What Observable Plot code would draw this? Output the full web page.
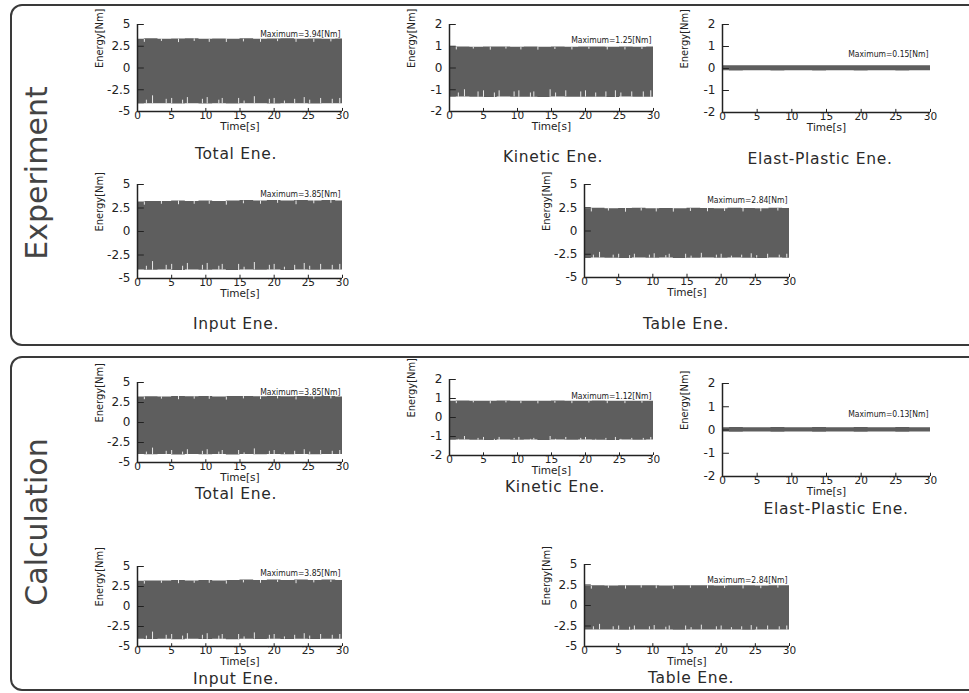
<!DOCTYPE html>
<html><head><meta charset="utf-8">
<script src="https://cdn.jsdelivr.net/npm/d3@7"></script>
<script src="https://cdn.jsdelivr.net/npm/@observablehq/plot@0.6"></script>
<style>
body{margin:0;background:#fff;}
#page{position:relative;width:969px;height:693px;overflow:hidden;font-family:"DejaVu Sans",sans-serif;color:#222;background:#fff}
.box{position:absolute;border:2px solid #3a3a3a;border-radius:12px;box-sizing:border-box}
.side{position:absolute;font-size:30px;color:#444;transform:translate(-50%,-50%) rotate(-90deg);white-space:nowrap}
.title{position:absolute;transform:translate(-50%,-50%);font-size:15.5px;letter-spacing:0.7px;white-space:nowrap;color:#2a2a2a;line-height:1}
.panel{position:absolute}
</style></head>
<body><div id="page"></div>
<script>
// ---- data ----
const T = [0,2,4,6,8,10,12,14,16,18,20,22,24,26,28,30];
const xTicks = [0,5,10,15,20,25,30];
const yTicks5 = [-5,-2.5,0,2.5,5];
const yTicks2 = [-2,-1,0,1,2];

const expTotalHi  = [3.3,3.35,3.3,3.32,3.35,3.3,3.34,3.3,3.36,3.3,3.33,3.35,3.3,3.34,3.3,3.32];
const expTotalLo  = [-4.15,-4.1,-4.12,-4.15,-4.1,-4.13,-4.1,-4.15,-4.12,-4.1,-4.14,-4.1,-4.12,-4.15,-4.1,-4.12];
const expKinHi    = [0.95,0.97,0.95,0.96,0.97,0.95,0.96,0.95,0.97,0.95,0.96,0.97,0.95,0.96,0.95,0.96];
const expKinLo    = [-1.35,-1.33,-1.35,-1.36,-1.33,-1.35,-1.34,-1.36,-1.33,-1.35,-1.34,-1.35,-1.36,-1.33,-1.35,-1.34];
const expElaHi    = [0.12,0.13,0.12,0.12,0.13,0.12,0.12,0.13,0.12,0.12,0.13,0.12,0.12,0.13,0.12,0.12];
const expElaLo    = [-0.1,-0.11,-0.1,-0.1,-0.11,-0.1,-0.1,-0.11,-0.1,-0.1,-0.11,-0.1,-0.1,-0.11,-0.1,-0.1];
const expInHi     = [3.15,3.2,3.2,3.25,3.2,3.25,3.2,3.25,3.3,3.25,3.3,3.25,3.3,3.25,3.3,3.25];
const expInLo     = [-4.1,-4.12,-4.1,-4.15,-4.1,-4.12,-4.1,-4.15,-4.1,-4.12,-4.1,-4.14,-4.1,-4.12,-4.1,-4.1];
const expTabHi    = [2.4,2.45,2.4,2.42,2.45,2.4,2.43,2.4,2.45,2.42,2.4,2.45,2.42,2.4,2.45,2.42];
const expTabLo    = [-2.95,-2.9,-2.92,-2.95,-2.9,-2.93,-2.9,-2.95,-2.92,-2.9,-2.94,-2.9,-2.92,-2.95,-2.9,-2.92];

const calTotalHi  = [3.2,3.22,3.2,3.25,3.22,3.25,3.2,3.25,3.25,3.22,3.25,3.22,3.25,3.22,3.25,3.2];
const calTotalLo  = [-4.0,-4.02,-4.0,-4.05,-4.0,-4.02,-4.0,-4.05,-4.0,-4.02,-4.0,-4.04,-4.0,-4.02,-4.0,-4.0];
const calKinHi    = [0.85,0.87,0.85,0.86,0.87,0.85,0.86,0.85,0.87,0.85,0.86,0.87,0.85,0.86,0.85,0.86];
const calKinLo    = [-1.2,-1.18,-1.2,-1.21,-1.18,-1.2,-1.19,-1.21,-1.18,-1.2,-1.19,-1.2,-1.21,-1.18,-1.2,-1.19];
const calElaHi    = [0.1,0.11,0.1,0.1,0.11,0.1,0.1,0.11,0.1,0.1,0.11,0.1,0.1,0.11,0.1,0.1];
const calElaLo    = [-0.09,-0.1,-0.09,-0.09,-0.1,-0.09,-0.09,-0.1,-0.09,-0.09,-0.1,-0.09,-0.09,-0.1,-0.09,-0.09];
const calInHi     = [3.15,3.2,3.2,3.25,3.2,3.25,3.2,3.25,3.3,3.25,3.3,3.25,3.3,3.25,3.3,3.25];
const calInLo     = [-4.1,-4.12,-4.1,-4.15,-4.1,-4.12,-4.1,-4.15,-4.1,-4.12,-4.1,-4.14,-4.1,-4.12,-4.1,-4.1];
const calTabHi    = [2.35,2.4,2.38,2.4,2.42,2.4,2.38,2.4,2.42,2.4,2.38,2.42,2.4,2.38,2.42,2.4];
const calTabLo    = [-3.0,-2.98,-3.0,-3.02,-2.98,-3.0,-3.0,-3.02,-2.98,-3.0,-3.0,-3.0,-3.02,-2.98,-3.0,-3.0];

// white gaps rising from the lower edge (time, top value)
const spikeT   = [1.3,2.2,4.2,5.0,6.6,7.3,9.5,10.2,11.9,12.4,14.8,15.6,17.1,19.3,20.0,21.5,23.0,24.4,25.2,26.8,28.5,29.6];
const spikeTop5 = [-3.7,-3.2,-3.6,-3.5,-3.7,-3.4,-3.6,-3.4,-3.7,-3.5,-3.5,-3.8,-3.3,-3.6,-3.5,-3.8,-3.6,-3.4,-3.7,-3.5,-3.6,-3.5];
const spikeTop2 = [-1.15,-1.0,-1.1,-1.05,-1.15,-1.05,-1.1,-1.05,-1.15,-1.1,-1.0,-1.15,-1.05,-1.1,-1.05,-1.15,-1.1,-1.05,-1.15,-1.1,-1.1,-1.05];
const spikeTopTab = [-2.6,-2.3,-2.6,-2.5,-2.65,-2.5,-2.6,-2.45,-2.65,-2.5,-2.5,-2.7,-2.4,-2.6,-2.5,-2.7,-2.6,-2.45,-2.65,-2.5,-2.6,-2.5];
// small notches dropping from the upper edge (time, depth in value units)
const notchT   = [1.0,3.5,6.0,8.3,10.5,13.0,15.5,18.0,20.5,23.2,25.8,28.3];
const notch5   = [0.35,0.3,0.4,0.3,0.35,0.4,0.3,0.35,0.3,0.4,0.35,0.3];
const notch2   = [0.12,0.1,0.14,0.1,0.12,0.14,0.1,0.12,0.1,0.14,0.12,0.1];

const panels = [
  {title:"Total Ene.", hi:expTotalHi, lo:expTotalLo, yd:[-5,5], yt:yTicks5, sTop:spikeTop5, notch:notch5, max:"Maximum=3.94[Nm]", x0:137, y0:24, w:205, h:87, maxDy:6, tx:236, ty:155},
  {title:"Kinetic Ene.", hi:expKinHi, lo:expKinLo, yd:[-2,2], yt:yTicks2, sTop:spikeTop2, notch:notch2, max:"Maximum=1.25[Nm]", x0:449, y0:24, w:204, h:87, maxDy:12, tx:553, ty:158},
  {title:"Elast-Plastic Ene.", hi:expElaHi, lo:expElaLo, yd:[-2,2], yt:yTicks2, sTop:null, notch:null, max:"Maximum=0.15[Nm]", x0:722, y0:24, w:208, h:88, maxDy:26, tx:820, ty:160},
  {title:"Input Ene.", hi:expInHi, lo:expInLo, yd:[-5,5], yt:yTicks5, sTop:spikeTop5, notch:notch5, max:"Maximum=3.85[Nm]", x0:137, y0:184, w:205, h:94, maxDy:6, tx:236, ty:325},
  {title:"Table Ene.", hi:expTabHi, lo:expTabLo, yd:[-5,5], yt:yTicks5, sTop:spikeTopTab, notch:notch5, max:"Maximum=2.84[Nm]", x0:584, y0:184, w:205, h:93, maxDy:12, tx:686, ty:325},
  {title:"Total Ene.", hi:calTotalHi, lo:calTotalLo, yd:[-5,5], yt:yTicks5, sTop:spikeTop5, notch:notch5, max:"Maximum=3.85[Nm]", x0:137, y0:382, w:205, h:80, maxDy:6, tx:236, ty:495},
  {title:"Kinetic Ene.", hi:calKinHi, lo:calKinLo, yd:[-2,2], yt:yTicks2, sTop:spikeTop2, notch:notch2, max:"Maximum=1.12[Nm]", x0:449, y0:379, w:204, h:76, maxDy:13, tx:555, ty:488},
  {title:"Elast-Plastic Ene.", hi:calElaHi, lo:calElaLo, yd:[-2,2], yt:yTicks2, sTop:null, notch:null, max:"Maximum=0.13[Nm]", x0:722, y0:383, w:208, h:93, maxDy:27, tx:836, ty:510},
  {title:"Input Ene.", hi:calInHi, lo:calInLo, yd:[-5,5], yt:yTicks5, sTop:spikeTop5, notch:notch5, max:"Maximum=3.85[Nm]", x0:137, y0:566, w:205, h:80, maxDy:3, tx:236, ty:680},
  {title:"Table Ene.", hi:calTabHi, lo:calTabLo, yd:[-5,5], yt:yTicks5, sTop:spikeTopTab, notch:notch5, max:"Maximum=2.84[Nm]", x0:584, y0:564, w:205, h:82, maxDy:12, tx:691, ty:679}
];

// ---- layout ----
const page = document.getElementById("page");
function addDiv(cls, css, text) {
  const d = document.createElement("div");
  d.className = cls; Object.assign(d.style, css);
  if (text) d.textContent = text;
  page.appendChild(d); return d;
}
addDiv("box", {left:"10px", top:"4px", width:"975px", height:"342px"});
addDiv("box", {left:"10px", top:"356px", width:"975px", height:"335px"});
addDiv("side", {left:"36px", top:"173px"}, "Experiment");
addDiv("side", {left:"36px", top:"522px"}, "Calculation");

const ML = 52, MR = 12, MT = 8, MB = 30;
const BAND = "#5e5e5e";
const COND = "'DejaVu Sans Condensed', 'DejaVu Sans', sans-serif";

for (const p of panels) {
  const band = T.map((t, i) => ({t, hi: p.hi[i], lo: p.lo[i]}));
  const loAt = t => { const i = Math.min(T.length - 2, Math.floor(t / 2)); return p.lo[i]; };
  const hiAt = t => { const i = Math.min(T.length - 2, Math.floor(t / 2)); return p.hi[i]; };
  const spikes = p.sTop ? spikeT.map((t, i) => ({t, y1: loAt(t), y2: p.sTop[i]})) : [];
  const notches = p.notch ? notchT.map((t, i) => ({t, y1: hiAt(t), y2: hiAt(t) - p.notch[i]})) : [];
  const span = p.yd[1] - p.yd[0];
  const chart = Plot.plot({
    width: p.w + ML + MR, height: p.h + MT + MB,
    marginLeft: ML, marginRight: MR, marginTop: MT, marginBottom: MB,
    style: {fontFamily: "'DejaVu Sans', sans-serif", fontSize: "11px", color: "#222", background: "transparent", overflow: "visible"},
    x: {domain: [0, 30]},
    y: {domain: p.yd},
    marks: [
      Plot.areaY(band, {x: "t", y1: "lo", y2: "hi", fill: BAND, curve: "step"}),
      Plot.ruleX(spikes, {x: "t", y1: "y1", y2: "y2", stroke: "#e8e8e8", strokeWidth: 1}),
      Plot.ruleX(notches, {x: "t", y1: "y1", y2: "y2", stroke: "#e8e8e8", strokeWidth: 1}),
      Plot.axisX({ticks: xTicks, tickSize: 0, tickPadding: 0, label: null, tickFormat: d => String(d), fontSize: 10.5}),
      Plot.axisY({ticks: p.yt, tickSize: 0, tickPadding: 7, label: null, tickFormat: d => String(d), fontSize: 12}),
      Plot.ruleY([p.yd[0]], {stroke: "#222", strokeWidth: 1.5}),
      Plot.ruleX([0], {stroke: "#222", strokeWidth: 1.5}),
      Plot.ruleX(xTicks, {x: d => d, y1: p.yd[0], y2: p.yd[0] + span * 0.035, stroke: "#222"}),
      Plot.ruleY(p.yt, {y: d => d, x1: 0, x2: 1, stroke: "#222"}),
      Plot.text(["Time[s]"], {frameAnchor: "bottom", dy: 18.5, fontSize: 10.5, fill: "#222"}),
      Plot.text(["Energy[Nm]"], {frameAnchor: "left", dx: -38, rotate: -90, fontSize: 11, fill: "#222", fontFamily: COND}),
      Plot.text([p.max], {frameAnchor: "top-right", dy: p.maxDy, dx: -2, textAnchor: "end", fontSize: 8.5, fill: "#222", fontFamily: COND})
    ]
  });
  const holder = addDiv("panel", {left: (p.x0 - ML) + "px", top: (p.y0 - MT) + "px"});
  holder.appendChild(chart);
  addDiv("title", {left: p.tx + "px", top: p.ty + "px"}, p.title);
}
</script>
</body></html>
